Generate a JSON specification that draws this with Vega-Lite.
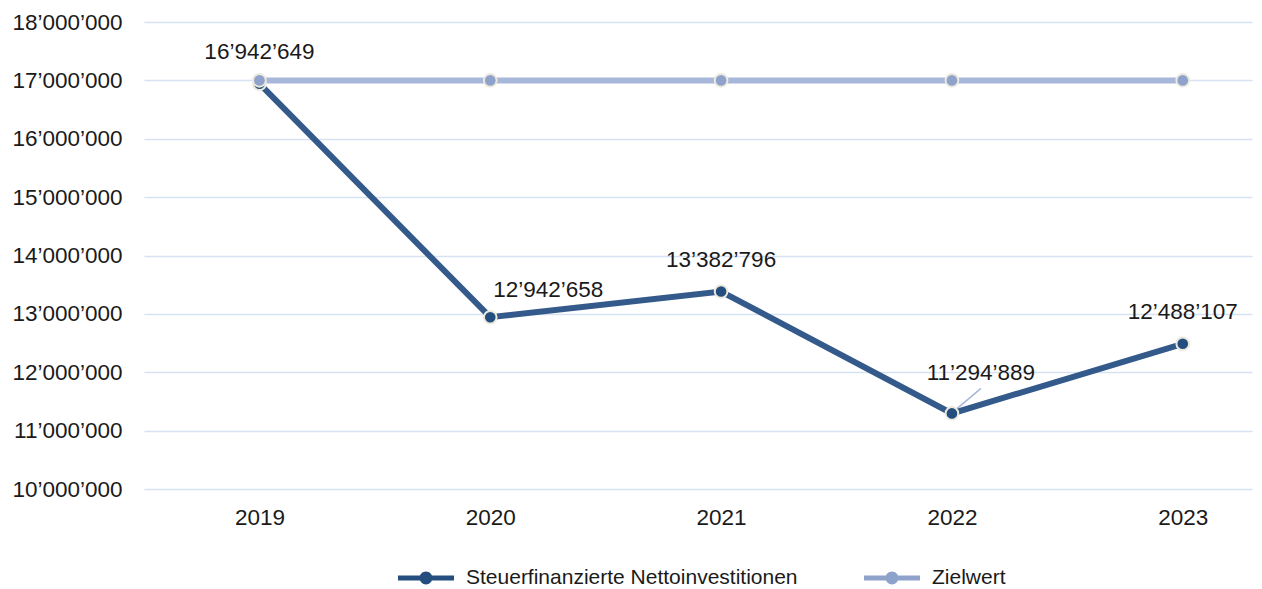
{
  "$schema": "https://vega.github.io/schema/vega-lite/v6.json",
  "width": 1108,
  "height": 467,
  "autosize": "none",
  "padding": {"left": 144, "top": 22, "right": 10, "bottom": 100},
  "background": "white",
  "config": {
    "view": {"stroke": null},
    "locale": {"number": {"decimal": ".", "thousands": "’", "grouping": [3], "currency": ["", ""]}},
    "font": "Liberation Sans",
    "axis": {"labelFont": "Liberation Sans", "labelFontSize": 22.5, "labelColor": "#1a1a1a", "domain": false, "ticks": false, "title": null}
  },
  "data": {
    "values": [
      {"year": 2019, "series": "Steuerfinanzierte Nettoinvestitionen", "value": 16942649},
      {"year": 2020, "series": "Steuerfinanzierte Nettoinvestitionen", "value": 12942658},
      {"year": 2021, "series": "Steuerfinanzierte Nettoinvestitionen", "value": 13382796},
      {"year": 2022, "series": "Steuerfinanzierte Nettoinvestitionen", "value": 11294889},
      {"year": 2023, "series": "Steuerfinanzierte Nettoinvestitionen", "value": 12488107},
      {"year": 2019, "series": "Zielwert", "value": 17000000},
      {"year": 2020, "series": "Zielwert", "value": 17000000},
      {"year": 2021, "series": "Zielwert", "value": 17000000},
      {"year": 2022, "series": "Zielwert", "value": 17000000},
      {"year": 2023, "series": "Zielwert", "value": 17000000}
    ]
  },
  "encoding": {
    "x": {
      "field": "year", "type": "quantitative",
      "scale": {"domain": [2018.5, 2023.3], "nice": false, "zero": false},
      "axis": {"values": [2019, 2020, 2021, 2022, 2023], "format": "d", "grid": false, "labelPadding": 17}
    },
    "y": {
      "field": "value", "type": "quantitative",
      "scale": {"domain": [10000000, 18000000], "nice": false, "zero": false},
      "axis": {
        "values": [10000000, 11000000, 12000000, 13000000, 14000000, 15000000, 16000000, 17000000, 18000000],
        "format": ",.0f", "grid": true, "gridColor": "#D6E2F2", "gridWidth": 1.5, "labelPadding": 22
      }
    }
  },
  "layer": [
    {
      "transform": [{"filter": "datum.series === 'Steuerfinanzierte Nettoinvestitionen' && datum.year === 2022"}],
      "mark": {"type": "rule", "color": "#A7B7D9", "strokeWidth": 1.5, "xOffset": 3, "yOffset": -3, "x2Offset": 29, "y2Offset": -25},
      "encoding": {"x2": {"field": "year"}, "y2": {"field": "value"}}
    },
    {
      "mark": {"type": "line", "strokeWidth": 6, "strokeCap": "butt"},
      "encoding": {
        "color": {
          "field": "series", "type": "nominal",
          "scale": {"domain": ["Steuerfinanzierte Nettoinvestitionen", "Zielwert"], "range": ["#335A8A", "#A7B7D9"]},
          "legend": {
            "title": null,
            "orient": "none",
            "direction": "horizontal",
            "legendX": 254,
            "legendY": 528,
            "symbolType": "M-1,-0.09H1V0.09H-1Z M0.23,0A0.23,0.23,0,1,1,-0.23,0A0.23,0.23,0,1,1,0.23,0Z",
            "symbolSize": 3136,
            "labelFont": "Liberation Sans",
            "labelFontSize": 21,
            "labelColor": "#1a1a1a",
            "labelOffset": 12,
            "columnPadding": 66,
            "labelLimit": 600,
            "encode": {"symbols": {"update": {"fill": {"scale": "color", "field": "value"}, "strokeWidth": {"value": 0}}}}
          }
        }
      }
    },
    {
      "mark": {"type": "point", "filled": true, "size": 160, "stroke": "#ECE9DE", "strokeWidth": 2, "opacity": 1},
      "encoding": {
        "fill": {
          "field": "series", "type": "nominal",
          "scale": {"domain": ["Steuerfinanzierte Nettoinvestitionen", "Zielwert"], "range": ["#234E7E", "#8FA2CB"]},
          "legend": null
        }
      }
    },
    {
      "transform": [{"filter": "datum.series === 'Steuerfinanzierte Nettoinvestitionen' && (datum.year === 2019 || datum.year === 2021 || datum.year === 2023)"}],
      "mark": {"type": "text", "fontSize": 22.5, "font": "Liberation Sans", "color": "#1a1a1a", "dy": -32, "baseline": "middle"},
      "encoding": {"text": {"field": "value", "type": "quantitative", "format": ",.0f"}}
    },
    {
      "transform": [{"filter": "datum.series === 'Steuerfinanzierte Nettoinvestitionen' && datum.year === 2020"}],
      "mark": {"type": "text", "fontSize": 22.5, "font": "Liberation Sans", "color": "#1a1a1a", "dx": 58, "dy": -27, "baseline": "middle"},
      "encoding": {"text": {"field": "value", "type": "quantitative", "format": ",.0f"}}
    },
    {
      "transform": [{"filter": "datum.series === 'Steuerfinanzierte Nettoinvestitionen' && datum.year === 2022"}],
      "mark": {"type": "text", "fontSize": 22.5, "font": "Liberation Sans", "color": "#1a1a1a", "dx": 29, "dy": -40, "baseline": "middle"},
      "encoding": {"text": {"field": "value", "type": "quantitative", "format": ",.0f"}}
    }
  ]
}
